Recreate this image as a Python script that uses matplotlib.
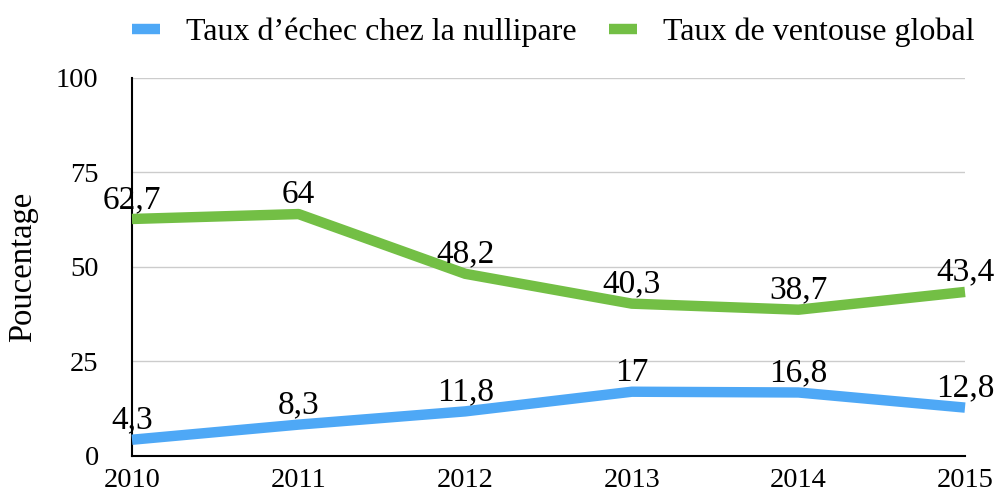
import matplotlib
matplotlib.use("Agg")
import matplotlib.pyplot as plt

years = ["2010", "2011", "2012", "2013", "2014", "2015"]
echec_nullipare = [4.3, 8.3, 11.8, 17, 16.8, 12.8]
ventouse_global = [62.7, 64, 48.2, 40.3, 38.7, 43.4]
labels_echec = ["4,3", "8,3", "11,8", "17", "16,8", "12,8"]
labels_ventouse = ["62,7", "64", "48,2", "40,3", "38,7", "43,4"]

plt.rcParams['font.family'] = ['Liberation Serif', 'DejaVu Serif']

fig = plt.figure(figsize=(10, 4.92), dpi=100)
ax = fig.add_axes([0.132, 0.0732, 0.833, 0.7683])

x = list(range(len(years)))
blue = "#4ea8f6"
green = "#73bf45"
l1, = ax.plot(x, echec_nullipare, color=blue, lw=7.5, solid_capstyle="butt",
              label="Taux d\u2019échec chez la nullipare", clip_on=False, zorder=3)
l2, = ax.plot(x, ventouse_global, color=green, lw=7.5, solid_capstyle="butt",
              label="Taux de ventouse global", clip_on=False, zorder=3)

for xi, v, t in zip(x, echec_nullipare, labels_echec):
    ax.annotate(t, (xi, v), xytext=(0, 3), textcoords="offset points",
                ha="center", va="bottom", fontsize=24, annotation_clip=False, zorder=4)
for xi, v, t in zip(x, ventouse_global, labels_ventouse):
    ax.annotate(t, (xi, v), xytext=(0, 3), textcoords="offset points",
                ha="center", va="bottom", fontsize=24, annotation_clip=False, zorder=4)

ax.set_xlim(0, 5)
ax.set_ylim(0, 100)
ax.set_xticks(x)
ax.set_xticklabels(years)
ax.set_yticks([0, 25, 50, 75, 100])
ax.tick_params(axis="both", length=0, labelsize=20.5)
ax.tick_params(axis="y", pad=24)
ax.tick_params(axis="x", pad=9)
ax.yaxis.grid(True, color="#cccccc", lw=1)
ax.set_axisbelow(True)
for s in ["top", "right"]:
    ax.spines[s].set_visible(False)
ax.spines["left"].set_linewidth(1.5)
ax.spines["bottom"].set_linewidth(1.5)
ax.set_ylabel("Poucentage", fontsize=23.5, labelpad=13)

fig.legend(handles=[l1, l2], loc="center", bbox_to_anchor=(0.553, 0.934), ncol=2,
           frameon=False, fontsize=23, handlelength=0.9, columnspacing=1.0,
           handletextpad=0.8)

fig.savefig("out.png", dpi=100)
